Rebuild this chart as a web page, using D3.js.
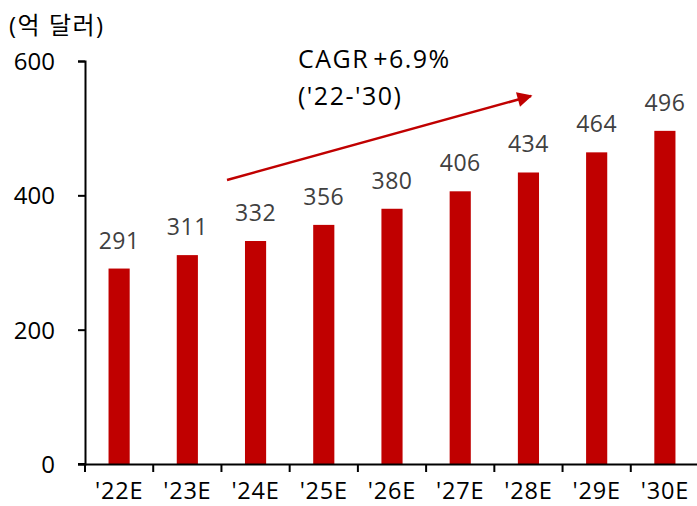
<!DOCTYPE html>
<html><head><meta charset="utf-8">
<script src="https://cdn.jsdelivr.net/npm/d3@7/dist/d3.min.js"></script>
<style>body{margin:0;background:#fff}svg{display:block}</style>
</head><body>
<svg id="c" width="697" height="506"></svg>
<script>
const categories = ["'22E","'23E","'24E","'25E","'26E","'27E","'28E","'29E","'30E"];
const values = [291,311,332,356,380,406,434,464,496];
const yTicks = [0,200,400,600];
const unitLabel = "(억 달러)";
const cagrLines = ["CAGR +6.9%","('22-'30)"];

const svg = d3.select("#c");
const font = "'Open Sans','Noto Sans CJK KR',sans-serif";
const x = d3.scaleBand().domain(categories).range([85,699]).paddingInner(0.69).paddingOuter(0.345);
const xb = d3.scaleBand().domain(categories).range([85,699]);
const y = d3.scaleLinear().domain([0,600]).range([464,61]);

// bars
svg.selectAll("rect.bar").data(values).join("rect")
  .attr("x",(d,i)=>x(categories[i])).attr("width",x.bandwidth())
  .attr("y",d=>y(d)).attr("height",d=>y(0)-y(d)).attr("fill","#C00000");

// value labels
svg.selectAll("text.val").data(values).join("text")
  .attr("x",(d,i)=>x(categories[i])+x.bandwidth()/2).attr("y",d=>y(d)-20)
  .attr("text-anchor","middle").attr("font-family",font).attr("font-size",23)
  .attr("fill","#404040").attr("letter-spacing",0.5).text(d=>d);

// y axis
const ya = svg.append("g").attr("transform","translate(85,0)")
  .call(d3.axisLeft(y).tickValues(yTicks).tickSize(7).tickPadding(9));
ya.select(".domain").attr("stroke","#000").attr("stroke-width",2);
ya.selectAll(".tick line").attr("stroke","#000").attr("stroke-width",2);
ya.selectAll(".tick text").attr("font-family",font).attr("font-size",24).attr("fill","#000")
  .attr("x",-30).attr("dy","0.35em").attr("text-anchor","end");

// x axis
const xa = svg.append("g").attr("transform","translate(0,464)")
  .call(d3.axisBottom(xb).tickSize(0).tickPadding(0));
xa.select(".domain").attr("stroke","#000").attr("stroke-width",2);
xa.selectAll(".tick text").attr("font-family",font).attr("font-size",23.5).attr("fill","#000")
  .attr("letter-spacing",0.8).attr("y",35).attr("dy",0);
// boundary ticks
const bounds = categories.map(c=>xb(c)).concat([xb(categories[categories.length-1])+xb.bandwidth()]);
svg.selectAll("line.bt").data(bounds).join("line")
  .attr("x1",d=>d).attr("x2",d=>d).attr("y1",464).attr("y2",472)
  .attr("stroke","#000").attr("stroke-width",2);
svg.append("line").attr("x1",78).attr("x2",86).attr("y1",464).attr("y2",464).attr("stroke","#000").attr("stroke-width",2);

// unit label
svg.append("text").attr("x",9).attr("y",34).attr("font-family",font).attr("font-size",24).attr("fill","#000")
  .attr("letter-spacing",1.5).text(unitLabel);

// CAGR text
svg.selectAll("text.cagr").data(cagrLines).join("text")
  .attr("x",298).attr("y",(d,i)=>68+i*37).attr("font-family",font).attr("font-size",25).attr("fill","#000")
  .attr("letter-spacing",1.5).attr("word-spacing",-4).text(d=>d);

// arrow
const defs = svg.append("defs");
defs.append("marker").attr("id","ah").attr("viewBox","0 0 10 10").attr("refX",9).attr("refY",5)
  .attr("markerWidth",7).attr("markerHeight",6).attr("markerUnits","strokeWidth").attr("orient","auto")
  .append("path").attr("d","M0,0 L10,5 L0,10 Z").attr("fill","#C00000");
svg.append("line").attr("x1",227).attr("y1",180).attr("x2",531).attr("y2",96)
  .attr("stroke","#C00000").attr("stroke-width",2.5).attr("marker-end","url(#ah)");
</script>
</body></html>
